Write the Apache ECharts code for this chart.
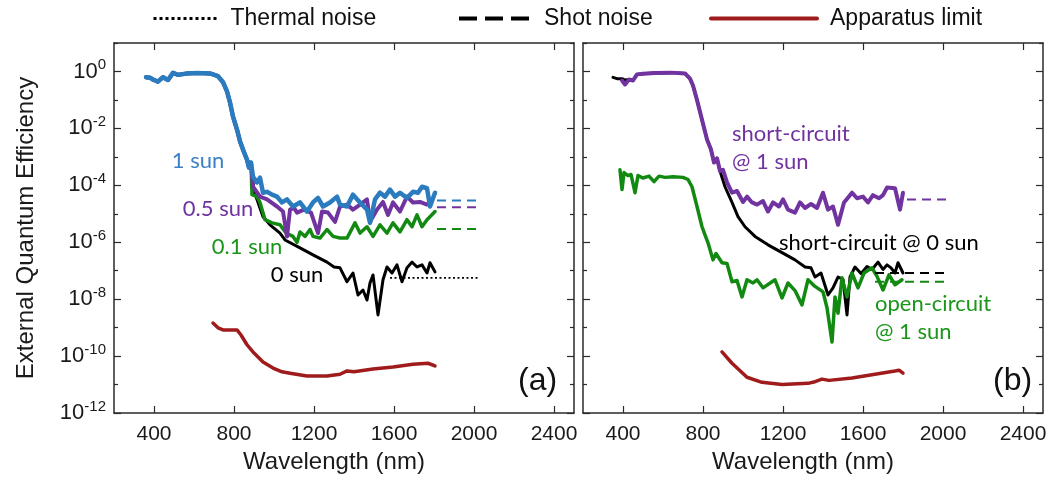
<!DOCTYPE html>
<html>
<head>
<meta charset="utf-8">
<script src="https://cdn.jsdelivr.net/npm/echarts@6/dist/echarts.min.js"></script>
<style>
  html, body { margin: 0; padding: 0; background: #fff; }
  #chart { width: 1053px; height: 493px; }
</style>
</head>
<body>
<div id="chart"></div>
<script>
// ---- Tick positions ----
const wavelengthTicks = [400, 800, 1200, 1600, 2000, 2400];
const eqeMajorTicks = [1e-12, 1e-10, 1e-8, 1e-6, 1e-4, 1e-2, 1e0];
const eqeMinorTicks = [1e-11, 1e-9, 1e-7, 1e-5, 1e-3, 1e-1, 1e1];

// ---- Panel (a): EQE at short circuit under different bias light, [wavelength nm, EQE] ----
const headA = [
  [360, 0.63], [380, 0.60], [395, 0.52], [420, 0.44], [445, 0.63], [470, 0.50],
  [495, 0.89], [520, 0.76], [565, 0.85], [615, 0.89], [680, 0.85], [720, 0.68],
  [745, 0.42], [765, 0.20], [780, 0.081], [795, 0.026], [815, 0.0091],
  [830, 0.0035], [845, 0.0018], [865, 7.9e-4], [875, 4.2e-4], [885, 6.3e-4]
];
const sun1TailA = [
  [895, 2.0e-4], [915, 1.26e-4], [930, 1.86e-4], [945, 5.5e-5], [965, 5.9e-5],
  [990, 4.7e-5], [1015, 4.0e-5], [1040, 2.5e-5], [1065, 3.2e-5], [1095, 1.8e-5],
  [1130, 2.5e-5], [1165, 1.2e-5], [1195, 2.5e-5], [1220, 3.6e-5], [1245, 1.8e-5],
  [1280, 2.5e-5], [1315, 4.0e-5], [1330, 2.1e-5], [1365, 1.8e-5], [1395, 4.7e-5],
  [1430, 2.5e-5], [1465, 1.4e-5], [1480, 4.8e-6], [1505, 3.2e-5], [1530, 5.5e-5],
  [1555, 4.0e-5], [1580, 7.1e-5], [1605, 4.0e-5], [1630, 5.5e-5], [1665, 3.6e-5],
  [1695, 5.9e-5], [1720, 5.5e-5], [1740, 8.9e-5], [1765, 7.9e-5], [1780, 1.8e-5],
  [1805, 5.5e-5]
];
const sun05TailA = [
  [895, 8.9e-5], [930, 4.0e-5], [965, 3.2e-5], [1015, 1.8e-5], [1045, 1.2e-5],
  [1065, 1.6e-6], [1080, 1.4e-5], [1100, 1.6e-5], [1115, 1.1e-5], [1150, 1.4e-5],
  [1185, 1.1e-5], [1220, 2.1e-6], [1240, 1.2e-5], [1270, 1.1e-5], [1305, 5.2e-6],
  [1330, 1.8e-5], [1365, 2.1e-5], [1395, 1.4e-5], [1430, 2.1e-5], [1465, 3.2e-5],
  [1480, 5.2e-6], [1515, 1.4e-5], [1545, 2.6e-5], [1570, 9.1e-6], [1595, 2.5e-5],
  [1630, 1.2e-5], [1665, 4.0e-5], [1695, 2.5e-5], [1730, 2.6e-5], [1765, 2.1e-5],
  [1780, 2.5e-5]
];
const sun01TailA = [
  [890, 4.7e-5], [915, 4.0e-5], [930, 2.5e-5], [955, 6.2e-6], [990, 4.8e-6],
  [1030, 4.1e-6], [1060, 2.1e-6], [1095, 1.6e-6], [1115, 1.0e-6], [1130, 2.3e-6],
  [1155, 1.6e-6], [1180, 2.8e-6], [1195, 1.6e-6], [1230, 1.4e-6], [1265, 2.8e-6],
  [1295, 1.6e-6], [1330, 1.4e-6], [1365, 1.4e-6], [1405, 4.8e-6], [1430, 2.1e-6],
  [1465, 3.5e-6], [1495, 1.6e-6], [1530, 4.1e-6], [1565, 2.1e-6], [1595, 4.8e-6],
  [1630, 2.3e-6], [1665, 6.2e-6], [1690, 3.5e-6], [1715, 9.1e-6], [1740, 3.5e-6],
  [1765, 6.2e-6], [1780, 7.9e-6], [1805, 1.2e-5]
];
const sun0TailA = [
  [900, 6.3e-5], [915, 3.2e-5], [945, 7.9e-6], [980, 4.1e-6], [1030, 2.1e-6],
  [1055, 1.2e-6], [1130, 6.3e-7], [1195, 3.6e-7], [1265, 2.0e-7], [1300, 1.35e-7],
  [1330, 1.26e-7], [1365, 4.1e-8], [1395, 8.3e-8], [1420, 1.4e-8], [1445, 2.1e-8],
  [1465, 9.3e-9], [1480, 3.7e-8], [1495, 7.1e-8], [1520, 2.8e-9], [1545, 4.8e-8],
  [1565, 1.35e-7], [1590, 8.3e-8], [1615, 1.6e-7], [1640, 4.1e-8], [1665, 1.26e-7],
  [1690, 2.0e-7], [1715, 1.35e-7], [1740, 1.6e-7], [1765, 8.3e-8], [1780, 1.9e-7],
  [1805, 9.1e-8]
];
const apparatusA = [
  [695, 1.45e-9], [720, 9.8e-10], [745, 8.3e-10], [770, 8.3e-10], [815, 8.3e-10],
  [835, 5.5e-10], [865, 2.5e-10], [895, 1.4e-10], [945, 6.2e-11], [995, 3.8e-11],
  [1040, 2.8e-11], [1080, 2.5e-11], [1165, 2.0e-11], [1265, 2.0e-11], [1330, 2.3e-11],
  [1365, 3.0e-11], [1400, 2.8e-11], [1495, 3.5e-11], [1595, 4.1e-11], [1695, 5.2e-11],
  [1770, 5.6e-11], [1805, 4.5e-11]
];
const thermalA = [[1580, 5.6e-8], [2030, 5.6e-8]];
const shot1SunA = [[1815, 2.9e-5], [2015, 2.9e-5]];
const shot05SunA = [[1815, 1.7e-5], [2015, 1.7e-5]];
const shot01SunA = [[1815, 2.9e-6], [2015, 2.9e-6]];

// ---- Panel (b): short circuit vs open circuit, [wavelength nm, EQE] ----
const headB = [
  [430, 0.52], [450, 0.48], [470, 0.79], [500, 0.83], [560, 0.89], [640, 0.91],
  [710, 0.85], [735, 0.56], [750, 0.32], [770, 0.10], [795, 0.020], [820, 0.0041],
  [840, 0.0018], [855, 6.3e-4], [870, 8.9e-4], [885, 3.2e-4]
];
const sc1SunStartB = [[395, 0.48], [410, 0.35]];
const sc1SunTailB = [
  [900, 3.5e-4], [920, 1.26e-4], [945, 5.5e-5], [970, 6.3e-5], [1000, 2.6e-5],
  [1020, 4.0e-5], [1045, 2.5e-5], [1070, 2.1e-5], [1100, 2.8e-5], [1125, 1.2e-5],
  [1150, 2.5e-5], [1180, 1.8e-5], [1200, 3.2e-5], [1225, 1.4e-5], [1260, 1.1e-5],
  [1285, 2.5e-5], [1310, 1.6e-5], [1340, 2.2e-5], [1370, 1.6e-5], [1400, 5.5e-5],
  [1425, 1.4e-5], [1450, 1.8e-5], [1475, 4.1e-6], [1505, 2.5e-5], [1545, 5.5e-5],
  [1570, 3.5e-5], [1600, 4.0e-5], [1625, 2.5e-5], [1650, 4.5e-5], [1680, 3.5e-5],
  [1700, 4.5e-5], [1720, 8.3e-5], [1760, 7.9e-5], [1785, 1.4e-5], [1800, 5.5e-5]
];
const sc0SunStartB = [[350, 0.62], [370, 0.56], [395, 0.56], [410, 0.50]];
const sc0SunTailB = [
  [910, 8.9e-5], [945, 2.5e-5], [975, 7.9e-6], [1010, 3.5e-6], [1060, 1.6e-6],
  [1125, 8.1e-7], [1195, 4.3e-7], [1260, 2.4e-7], [1310, 1.35e-7], [1340, 1.26e-7],
  [1360, 6.0e-8], [1390, 8.3e-8], [1425, 1.4e-8], [1450, 2.5e-8], [1475, 6.0e-8],
  [1500, 5.0e-8], [1520, 2.8e-9], [1535, 6.0e-8], [1560, 1.35e-7], [1590, 7.9e-8],
  [1620, 1.4e-7], [1645, 1.1e-7], [1675, 2.0e-7], [1700, 1.1e-7], [1720, 1.6e-7],
  [1740, 1.26e-7], [1760, 8.3e-8], [1775, 1.9e-7], [1800, 8.3e-8]
];
const oc1SunB = [
  [385, 3.5e-4], [395, 7.1e-5], [405, 2.8e-4], [425, 2.2e-4], [440, 2.4e-4],
  [460, 5.5e-5], [475, 2.2e-4], [500, 1.8e-4], [530, 2.1e-4], [555, 1.35e-4],
  [580, 2.1e-4], [610, 1.9e-4], [650, 2.0e-4], [700, 1.9e-4], [725, 1.6e-4],
  [745, 8.9e-5], [770, 1.8e-5], [795, 3.5e-6], [810, 1.8e-6], [825, 9.5e-7],
  [850, 2.4e-7], [865, 4.0e-7], [895, 1.9e-7], [920, 1.8e-7], [945, 4.1e-8],
  [970, 4.5e-8], [995, 1.2e-8], [1020, 4.8e-8], [1050, 3.7e-8], [1070, 4.8e-8],
  [1100, 2.5e-8], [1160, 4.8e-8], [1195, 1.1e-8], [1225, 3.7e-8], [1260, 2.0e-8],
  [1295, 6.3e-9], [1325, 4.8e-8], [1360, 2.8e-8], [1400, 1.8e-8], [1420, 5.0e-9],
  [1445, 3.1e-10], [1460, 1.2e-8], [1475, 3.2e-9], [1495, 5.6e-8], [1520, 1.2e-8],
  [1545, 8.3e-8], [1575, 2.5e-8], [1605, 8.3e-8], [1645, 1.26e-7], [1670, 6.3e-8],
  [1700, 2.1e-8], [1730, 7.1e-8], [1760, 3.2e-8], [1795, 4.8e-8]
];
const apparatusB = [
  [895, 1.4e-10], [945, 5.6e-11], [1020, 1.8e-11], [1095, 1.2e-11], [1195, 1.0e-11],
  [1325, 1.1e-11], [1360, 1.26e-11], [1395, 1.55e-11], [1430, 1.4e-11], [1545, 1.7e-11],
  [1660, 2.3e-11], [1760, 3.0e-11], [1780, 3.2e-11], [1800, 2.5e-11]
];
const shotSc1SunB = [[1820, 3.2e-5], [2020, 3.2e-5]];
const shotSc0SunB = [[1660, 8.3e-8], [2020, 8.3e-8]];
const shotOc1SunB = [[1660, 4.1e-8], [2020, 4.1e-8]];

// ---- Styling ----
const AXIS_FONT = '"Liberation Sans", Arial, sans-serif';
const NOTE_FONT = 'Lato, "Open Sans", sans-serif';
const C = {
  blue: '#2b7bbf', purple: '#7133a0', green: '#128a12', black: '#000000', red: '#a01c1c',
  blueText: '#3c80c6', purpleText: '#7133a0', greenText: '#1a961a'
};

const frameColor = '#2a2a2a';

function xAxes(grid) {
  const base = {
    type: 'value', gridIndex: grid, min: 200, max: 2500,
    splitLine: { show: false },
    axisLine: { show: true, lineStyle: { color: frameColor, width: 1.5 } },
    axisTick: { show: true, inside: true, length: 7, customValues: wavelengthTicks,
                lineStyle: { color: frameColor, width: 1.2 } }
  };
  return [
    Object.assign({}, base, {
      position: 'bottom',
      axisLabel: { show: true, customValues: wavelengthTicks, margin: 11, fontSize: 21,
                   fontFamily: AXIS_FONT, color: '#1a1a1a', formatter: (v) => String(v) },
      name: 'Wavelength (nm)', nameLocation: 'middle', nameGap: 29,
      nameTextStyle: { fontSize: 24, fontFamily: AXIS_FONT, color: '#1a1a1a', padding: [0, 20, 0, 0] }
    }),
    Object.assign({}, base, { position: 'top', axisLabel: { show: false } })
  ];
}

function yAxes(grid, withLabels) {
  const base = {
    type: 'log', gridIndex: grid, min: 1e-12, max: 1e1, logBase: 10,
    splitLine: { show: false }, minorTick: { show: false }
  };
  const tickStyle = { color: frameColor, width: 1.2 };
  const major = (pos) => Object.assign({}, base, {
    position: pos,
    axisLine: { show: true, lineStyle: { color: frameColor, width: 1.5 } },
    axisTick: { show: true, inside: true, length: 7, customValues: eqeMajorTicks, lineStyle: tickStyle },
    axisLabel: { show: false }
  });
  const minor = (pos) => Object.assign({}, base, {
    position: pos,
    axisLine: { show: false },
    axisTick: { show: true, inside: true, length: 4, customValues: eqeMinorTicks, lineStyle: tickStyle },
    axisLabel: { show: false }
  });
  const left = major('left');
  if (withLabels) {
    left.axisLabel = {
      show: true, customValues: eqeMajorTicks, margin: 8,
      formatter: (v) => '{b|10}{s|' + Math.round(Math.log10(v)) + '}',
      rich: {
        b: { fontSize: 22, fontFamily: AXIS_FONT, color: '#1a1a1a', lineHeight: 28, verticalAlign: 'middle' },
        s: { fontSize: 15, fontFamily: AXIS_FONT, color: '#1a1a1a', lineHeight: 12, verticalAlign: 'top' }
      }
    };
    left.name = 'External Quantum Efficiency';
    left.nameLocation = 'middle';
    left.nameGap = 76;
    left.nameTextStyle = { fontSize: 24, fontFamily: AXIS_FONT, color: '#1a1a1a' };
  }
  return [left, minor('left'), major('right'), minor('right')];
}

function line(name, data, color, width, xi, yi, extra) {
  return Object.assign({
    type: 'line', name: name, data: data, xAxisIndex: xi, yAxisIndex: yi,
    symbol: 'none', showSymbol: false, silent: true, animation: false,
    lineStyle: { color: color, width: width, join: 'round', cap: 'round' },
    itemStyle: { color: color }
  }, extra || {});
}

function dashed(name, data, color, xi, yi) {
  return line(name, data, color, 2, xi, yi, {
    lineStyle: { color: color, width: 2, type: [9, 6], cap: 'butt' }
  });
}

function note(text, coord, color, position) {
  return {
    symbol: 'circle', symbolSize: 0, silent: true, animation: false,
    label: {
      show: true, position: position || 'inside', distance: 0,
      formatter: text, color: color, fontFamily: NOTE_FONT, fontSize: 22, lineHeight: 28,
      align: position === 'right' ? 'left' : 'center'
    },
    data: [{ coord: coord }]
  };
}

const series = [
  // panel (a)
  line('Apparatus limit', apparatusA, C.red, 3.5, 0, 0),
  line('0 sun', headA.concat(sun0TailA), C.black, 3, 0, 0,
       { markPoint: note('0 sun', [1115, 7.1e-8], C.black) }),
  line('0.1 sun', headA.concat(sun01TailA), C.green, 3.5, 0, 0,
       { markPoint: note('0.1 sun', [865, 6.9e-7], C.greenText) }),
  line('0.5 sun', headA.concat(sun05TailA), C.purple, 4, 0, 0,
       { markPoint: note('0.5 sun', [720, 1.5e-5], C.purpleText) }),
  line('1 sun', headA.concat(sun1TailA), C.blue, 4.5, 0, 0,
       { markPoint: note('1 sun', [620, 7.4e-4], C.blueText) }),
  line('Thermal noise', thermalA, C.black, 1.6, 0, 0,
       { lineStyle: { color: C.black, width: 1.6, type: [2, 2.5], cap: 'butt' } }),
  dashed('Shot noise, 1 sun', shot1SunA, C.blue, 0, 0),
  dashed('Shot noise, 0.5 sun', shot05SunA, C.purple, 0, 0),
  dashed('Shot noise, 0.1 sun', shot01SunA, C.green, 0, 0),

  // panel (b)
  line('Apparatus limit', apparatusB, C.red, 3.5, 2, 4),
  line('short-circuit @ 0 sun', sc0SunStartB.concat(headB, sc0SunTailB), C.black, 3, 2, 4,
       { markPoint: note('short-circuit @ 0 sun', [1180, 9.5e-7], C.black, 'right') }),
  line('open-circuit @ 1 sun', oc1SunB, C.green, 3.5, 2, 4,
       { markPoint: note('open-circuit\n@ 1 sun', [1660, 2.2e-9], C.greenText, 'right') }),
  line('short-circuit @ 1 sun', sc1SunStartB.concat(headB, sc1SunTailB), C.purple, 4, 2, 4,
       { markPoint: note('short-circuit\n@ 1 sun', [945, 2.1e-3], C.purpleText, 'right') }),
  dashed('Shot noise', shotSc0SunB, C.black, 2, 4),
  dashed('Shot noise, open-circuit', shotOc1SunB, C.green, 2, 4),
  dashed('Shot noise, short-circuit 1 sun', shotSc1SunB, C.purple, 2, 4)
];

const legendText = { fontSize: 23, fontFamily: AXIS_FONT, color: '#111', padding: [0, 0, 0, 8] };
const hiddenSymbol = { opacity: 0 };

const option = {
  backgroundColor: '#fff',
  animation: false,
  grid: [
    { left: 114, right: 479, top: 43, bottom: 80 },
    { left: 583, right: 10, top: 43, bottom: 80 }
  ],
  xAxis: xAxes(0).concat(xAxes(1)),
  yAxis: yAxes(0, true).concat(yAxes(1, false)),
  legend: [
    { top: 2, left: 147, itemWidth: 64, itemHeight: 14, textStyle: legendText, selectedMode: false,
      data: [{ name: 'Thermal noise', itemStyle: hiddenSymbol, lineStyle: { width: 3, type: [3, 3] } }] },
    { top: 2, left: 452, itemWidth: 72, itemHeight: 14, textStyle: legendText, selectedMode: false,
      data: [{ name: 'Shot noise', itemStyle: hiddenSymbol, lineStyle: { width: 4, type: [18, 8] } }] },
    { top: 2, left: 704, itemWidth: 106, itemHeight: 14, textStyle: legendText, selectedMode: false,
      data: [{ name: 'Apparatus limit', itemStyle: hiddenSymbol, lineStyle: { width: 4 } }] }
  ],
  graphic: [
    { type: 'text', left: 518, top: 365, silent: true,
      style: { text: '(a)', fontSize: 32, fontFamily: AXIS_FONT, fill: '#111' } },
    { type: 'text', left: 993, top: 365, silent: true,
      style: { text: '(b)', fontSize: 32, fontFamily: AXIS_FONT, fill: '#111' } }
  ],
  series: series
};

const chart = echarts.init(document.getElementById('chart'), null, { renderer: 'canvas' });
chart.setOption(option);
</script>
</body>
</html>
